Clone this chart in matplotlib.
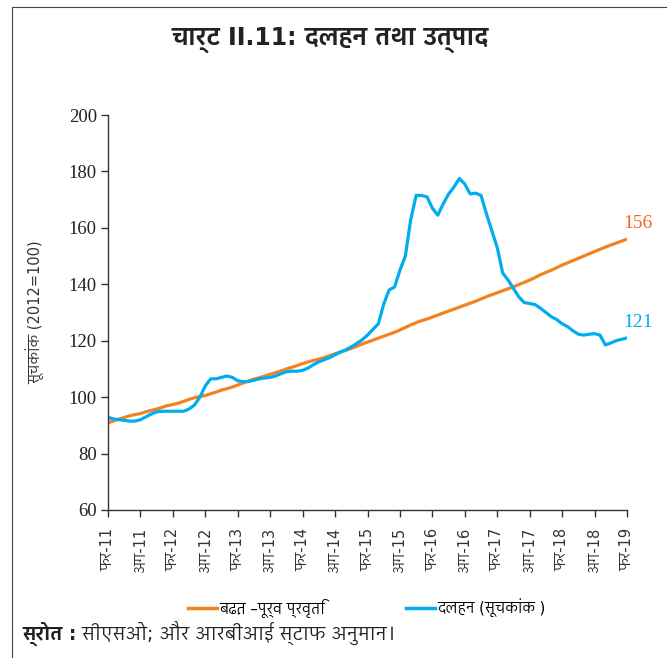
import numpy as np
import matplotlib
matplotlib.use("Agg")
import matplotlib.pyplot as plt
from matplotlib import font_manager
from matplotlib.ft2font import FT2Font
from matplotlib.lines import Line2D

# ---------- data ----------
TITLE = "चार्ट II.11: दलहन तथा उत्पाद"
YLABEL = "सूचकांक (2012=100)"
SOURCE_BOLD = "स्रोत :"
SOURCE_TEXT = " सीएसओ; और आरबीआई स्टाफ अनुमान।"
TREND_LABEL = "बढ़त –पूर्व प्रवृति"
PULSES_LABEL = "दलहन (सूचकांक )"

# months since Feb-2011 (monthly, Feb-11 .. Feb-19)
months = np.arange(97)

trend = [
    91.0, 91.5, 92.2, 92.8, 93.4, 93.8, 94.2, 94.8, 95.3, 95.8,
    96.4, 97.0, 97.4, 97.9, 98.5, 99.2, 99.8, 100.2, 100.6, 101.2,
    101.8, 102.5, 103.0, 103.6, 104.3, 105.0, 105.8, 106.4, 106.9, 107.5,
    108.1, 108.7, 109.3, 110.0, 110.6, 111.2, 111.9, 112.5, 113.0, 113.5,
    114.0, 114.7, 115.4, 116.0, 116.6, 117.3, 118.0, 118.8, 119.5, 120.2,
    120.9, 121.6, 122.3, 123.0, 123.8, 124.7, 125.6, 126.4, 127.1, 127.7,
    128.4, 129.1, 129.8, 130.5, 131.2, 131.9, 132.6, 133.3, 134.0, 134.8,
    135.6, 136.3, 137.0, 137.7, 138.4, 139.1, 139.9, 140.7, 141.5, 142.4,
    143.4, 144.2, 145.0, 145.9, 146.8, 147.6, 148.4, 149.2, 150.0, 150.8,
    151.6, 152.4, 153.2, 153.9, 154.6, 155.3, 156.0,
]

pulses = [
    92.8, 92.3, 92.0, 91.8, 91.5, 91.5, 92.0, 93.0, 94.0, 94.8,
    95.0, 95.0, 95.0, 95.0, 95.0, 95.8, 97.2, 100.0, 104.0, 106.5,
    106.5, 107.0, 107.5, 107.0, 105.8, 105.5, 105.5, 106.0, 106.5, 106.8,
    107.0, 107.5, 108.3, 109.0, 109.2, 109.2, 109.5, 110.3, 111.5, 112.5,
    113.3, 114.0, 115.0, 116.0, 116.8, 117.8, 119.0, 120.3, 122.0, 124.0,
    126.0, 133.0, 138.0, 139.0, 145.0, 150.0, 163.0, 171.5, 171.5, 171.0,
    167.0, 164.5, 168.5, 172.0, 174.5, 177.5, 175.5, 172.0, 172.3, 171.5,
    165.0, 159.0, 153.0, 144.0, 141.5, 138.5, 135.5, 133.5, 133.2, 132.8,
    131.5, 130.0, 128.5, 127.5, 126.0, 125.0, 123.5, 122.3, 122.0, 122.3,
    122.5, 122.0, 118.5, 119.2, 120.0, 120.5, 121.0,
]

tick_months = np.arange(0, 97, 6)
tick_labels = ["फर-11", "अग-11", "फर-12", "अग-12", "फर-13", "अग-13",
               "फर-14", "अग-14", "फर-15", "अग-15", "फर-16", "अग-16",
               "फर-17", "अग-17", "फर-18", "अग-18", "फर-19"]

ORANGE = "#F58220"
BLUE = "#00AEEF"
ORANGE_TXT = "#F26522"


# ---------- fonts ----------
def find_devanagari_family():
    """installed family with Devanagari glyphs, sans / proportional preferred"""
    found = {}
    for f in font_manager.fontManager.ttflist:
        if f.name in found:
            continue
        try:
            ft = FT2Font(f.fname)
            if ft.get_char_index(ord("द")) and ft.get_char_index(ord("ा")):
                found[f.name] = f.fname
        except Exception:
            continue
    if not found:
        return None

    def score(name):
        n = name.lower()
        s = 0
        if "mono" in n or "code" in n:
            s += 10
        if "serif" in n and "sans" not in n:
            s += 4
        if "devanagari" in n:
            s -= 3
        if "sans" in n:
            s -= 1
        return s
    return sorted(found, key=score)[0]

deva = find_devanagari_family()
SANS = ["DejaVu Sans", deva] if deva else ["DejaVu Sans"]
SERIF = ["Liberation Serif", "DejaVu Serif"]
plt.rcParams["font.family"] = SANS


# ---------- plot ----------
W, H = 667, 658
fig = plt.figure(figsize=(W / 100, H / 100), dpi=100)
ax = fig.add_axes([108 / W, 1 - 510 / H, (627 - 108) / W, (510 - 115) / H])

ax.plot(months, trend, color=ORANGE, lw=2.3, solid_capstyle="round")
ax.plot(months, pulses, color=BLUE, lw=2.3, solid_capstyle="round")

ax.set_xlim(0, 96)
ax.set_ylim(60, 200)
ax.set_yticks(range(60, 201, 20))
ax.set_xticks(tick_months)
ax.set_xticklabels(tick_labels, rotation=90, fontsize=10.5, color="#333333")
for lab in ax.get_yticklabels():
    lab.set_family(SERIF)
    lab.set_fontsize(13.5)
    lab.set_color("#222222")

for side in ["top", "right"]:
    ax.spines[side].set_visible(False)
for side in ["left", "bottom"]:
    ax.spines[side].set_color("#333333")
    ax.spines[side].set_linewidth(1.0)
ax.tick_params(axis="both", direction="out", length=5, width=1.0, color="#333333")
ax.tick_params(axis="x", pad=8)
ax.tick_params(axis="y", pad=3)

ax.set_ylabel(YLABEL, fontsize=10.5, color="#333333", labelpad=18)

# end labels
ax.text(95.3, trend[-1] + 2.5, "156", color=ORANGE_TXT, family=SERIF,
        fontsize=14, ha="left", va="bottom")
ax.text(95.3, pulses[-1] + 2.5, "121", color=BLUE, family=SERIF,
        fontsize=14, ha="left", va="bottom")

# title
fig.text(330 / W, 1 - 40 / H, TITLE, ha="center", va="center",
         fontsize=17, fontweight="bold", color="#222222")

# legend: two single-entry legends pinned at their own positions
for col, lab, x0 in [(ORANGE, TREND_LABEL, 188), (BLUE, PULSES_LABEL, 406)]:
    fig.legend([Line2D([], [], color=col, lw=2.5)], [lab], loc="center left",
               bbox_to_anchor=(x0 / W, 1 - 608 / H), frameon=False,
               fontsize=10.5, handlelength=2.0, handletextpad=0.15,
               borderpad=0, borderaxespad=0)

# source line
t = fig.text(22 / W, 1 - 634 / H, SOURCE_BOLD, ha="left", va="center",
             fontsize=13.5, fontweight="bold", color="#222222")
fig.canvas.draw()
bb = t.get_window_extent()
fig.text(bb.x1 / W, 1 - 634 / H, SOURCE_TEXT, ha="left", va="center",
         fontsize=13.5, color="#222222")

# box frame (left and top edges)
fig.add_artist(Line2D([12 / W, 12 / W], [0, 1 - 7 / H], color="#444444", lw=0.8))
fig.add_artist(Line2D([12 / W, 1], [1 - 7 / H, 1 - 7 / H], color="#444444", lw=0.8))

fig.savefig("out.png", dpi=100)
